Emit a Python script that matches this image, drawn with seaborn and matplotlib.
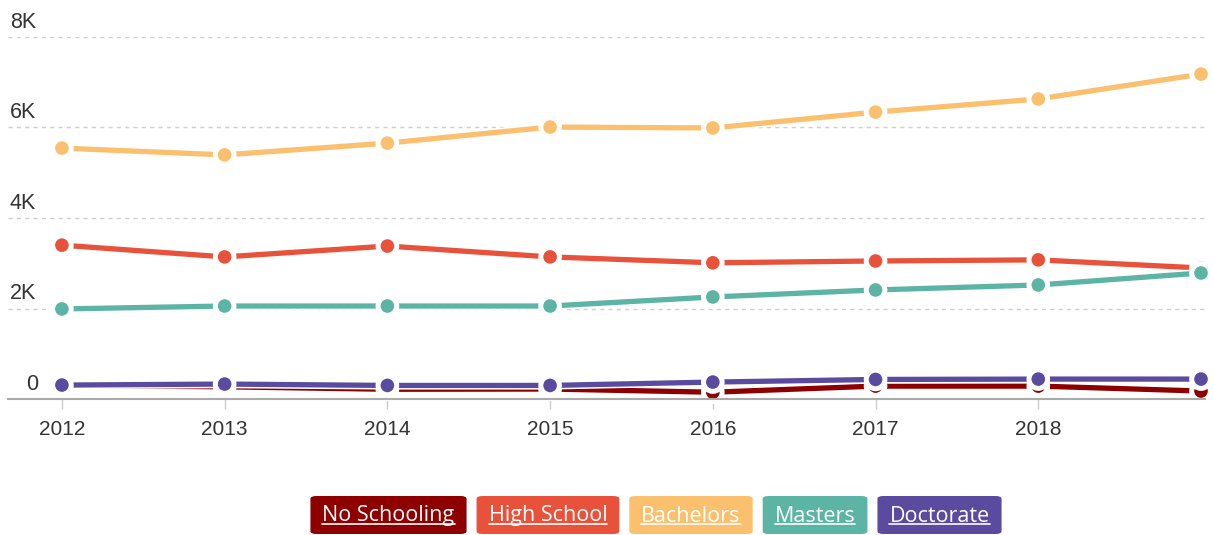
import numpy as np
import pandas as pd
import matplotlib
matplotlib.use("Agg")
import matplotlib.pyplot as plt
import matplotlib.patheffects as pe
from matplotlib.lines import Line2D
from matplotlib.patches import FancyBboxPatch
from matplotlib.transforms import blended_transform_factory
import seaborn as sns

years = [2012, 2013, 2014, 2015, 2016, 2017, 2018, 2019]
no_schooling = [300, 270, 215, 220, 150, 285, 285, 176]
high_school = [3400, 3140, 3380, 3140, 3010, 3050, 3075, 2895]
bachelors = [5545, 5395, 5655, 6010, 5990, 6340, 6630, 7180]
masters = [1990, 2055, 2055, 2055, 2255, 2410, 2520, 2785]
doctorate = [308, 330, 300, 300, 374, 432, 440, 440]

series_names = ["No Schooling", "High School", "Bachelors", "Masters", "Doctorate"]
series_values = [no_schooling, high_school, bachelors, masters, doctorate]
colors = ["#8e0000", "#e8523a", "#fbc06e", "#5bb4a4", "#5b4b9e"]

xtick_years = [2012, 2013, 2014, 2015, 2016, 2017, 2018]
ytick_vals = [0, 2000, 4000, 6000, 8000]
ytick_labels = ["0", "2K", "4K", "6K", "8K"]

rows = []
for name, vals in zip(series_names, series_values):
    for y, v in zip(years, vals):
        rows.append({"year": y, "value": v, "series": name})
df = pd.DataFrame(rows)

sns.set_theme(style="white")
plt.rcParams["font.family"] = ["Liberation Sans", "DejaVu Sans"]

W, H = 1213, 535
fig = plt.figure(figsize=(W / 100, H / 100), dpi=100)
ax = fig.add_axes([8 / W, (H - 399) / H, (1205 - 8) / W, (399 - 37) / H])

sns.lineplot(data=df, x="year", y="value", hue="series", hue_order=series_names,
             palette=dict(zip(series_names, colors)), marker="o", markersize=11,
             markeredgecolor="white", markeredgewidth=1.2, linewidth=3.8,
             legend=False, ax=ax, clip_on=False)
for ln in ax.get_lines():
    ln.set_path_effects([pe.Stroke(linewidth=6, foreground="white"), pe.Normal()])
    ln.set_solid_capstyle("round")

ax.set_xlim(2012 - 54 / 163, 2019 + 4 / 163)
ax.set_ylim(0, 8000)

for s in ["top", "right", "left"]:
    ax.spines[s].set_visible(False)
ax.spines["bottom"].set_color("#aaaaaa")
ax.spines["bottom"].set_linewidth(1.5)

ax.set_yticks(ytick_vals)
ax.set_yticklabels([])
ax.tick_params(axis="y", length=0)
for v in ytick_vals[1:]:
    ax.axhline(v, color="#d0d0d0", linestyle=(0, (3, 3)), linewidth=1.0, zorder=0)
tr = blended_transform_factory(ax.transAxes, ax.transData)
for v, lab in zip(ytick_vals, ytick_labels):
    ax.text((2 + (16 if lab == "0" else 0)) / (1205 - 8), v + 200, lab,
            transform=tr, ha="left", va="baseline", fontsize=15.5, color="#333333")

ax.set_xticks(xtick_years)
ax.set_xticklabels([str(y) for y in xtick_years])
ax.tick_params(axis="x", length=7, width=1, color="#cccccc", pad=8,
               labelsize=15, labelcolor="#333333", direction="out", bottom=True)
ax.set_xlabel("")
ax.set_ylabel("")

# legend boxes
fig.canvas.draw()
renderer = fig.canvas.get_renderer()
texts = []
for name, col in zip(series_names, colors):
    t = fig.text(0, (H - 516) / H, name, ha="left", va="center", color="white",
                 fontsize=15.5, family=["Open Sans", "DejaVu Sans"], zorder=5)
    texts.append(t)
fig.canvas.draw()
pad_px = 12
gap_px = 10
widths = [t.get_window_extent(renderer).width for t in texts]
total = sum(w + 2 * pad_px for w in widths) + gap_px * (len(widths) - 1)
x0 = (308 + 1004) / 2 - total / 2
for t, w, col in zip(texts, widths, colors):
    t.set_x((x0 + pad_px) / W)
    box = FancyBboxPatch((x0 / W, (H - 534) / H), (w + 2 * pad_px) / W, 38 / H,
                         boxstyle="round,pad=0,rounding_size=0.005",
                         transform=fig.transFigure, facecolor=col, edgecolor="none",
                         zorder=1)
    fig.add_artist(box)
    x0 += w + 2 * pad_px + gap_px
fig.canvas.draw()
for t in texts:
    bb = t.get_window_extent(renderer)
    yline = bb.y0 + 3
    fig.add_artist(Line2D([bb.x0 / W, bb.x1 / W], [yline / H, yline / H],
                          transform=fig.transFigure, color="white", linewidth=1.2, zorder=6))

fig.savefig("out.png", dpi=100)
